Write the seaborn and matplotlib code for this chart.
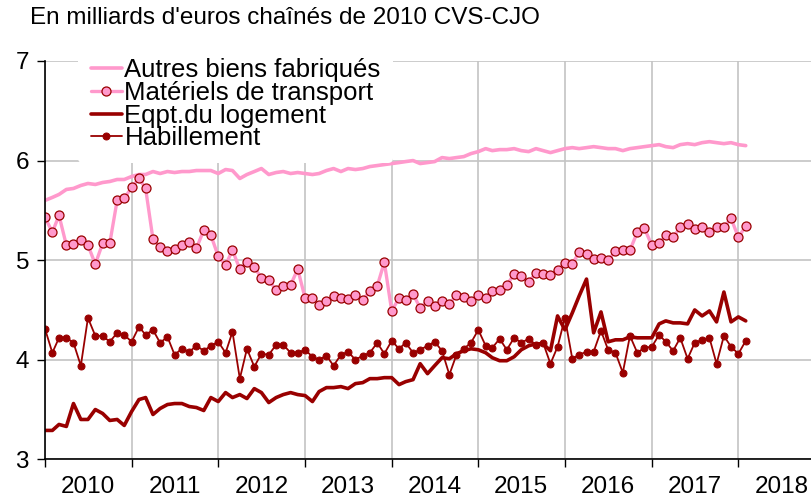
import pandas as pd
import matplotlib
matplotlib.use('Agg')
import matplotlib.pyplot as plt
import matplotlib.dates as mdates
import seaborn as sns

# Monthly series, Jan 2010 - Feb 2018 (billions of chained 2010 euros)
months = pd.date_range('2010-01-01', periods=98, freq='MS')

autres_biens = [
    5.60, 5.63, 5.66, 5.71, 5.72, 5.75, 5.77, 5.76, 5.78, 5.79, 5.81, 5.81,
    5.84, 5.86, 5.86, 5.89, 5.87, 5.89, 5.88, 5.89, 5.89, 5.90, 5.90, 5.90,
    5.87, 5.91, 5.90, 5.82, 5.86, 5.89, 5.92, 5.86, 5.88, 5.89, 5.87, 5.88,
    5.87, 5.86, 5.87, 5.90, 5.92, 5.89, 5.92, 5.91, 5.92, 5.94, 5.95, 5.96,
    5.97, 5.98, 5.99, 6.00, 5.97, 5.98, 5.99, 6.03, 6.02, 6.03, 6.04, 6.07,
    6.09, 6.12, 6.10, 6.11, 6.11, 6.12, 6.10, 6.09, 6.12, 6.10,
    6.08, 6.10, 6.12, 6.13, 6.12, 6.13, 6.14, 6.13, 6.12, 6.12, 6.10, 6.12,
    6.13, 6.14, 6.15, 6.16, 6.14, 6.13, 6.16, 6.17, 6.16, 6.18, 6.19, 6.18,
    6.17, 6.18, 6.16, 6.15,
]

materiels_transport = [
    5.43, 5.28, 5.45, 5.15, 5.16, 5.20, 5.15, 4.96, 5.17, 5.17, 5.60, 5.62,
    5.73, 5.82, 5.72, 5.21, 5.13, 5.09, 5.11, 5.15, 5.18, 5.12, 5.30, 5.25,
    5.04, 4.95, 5.10, 4.91, 4.98, 4.93, 4.82, 4.80, 4.70, 4.74, 4.75, 4.91,
    4.62, 4.62, 4.55, 4.59, 4.64, 4.62, 4.61, 4.65, 4.60, 4.69, 4.74, 4.98,
    4.49, 4.62, 4.60, 4.66, 4.52, 4.59, 4.54, 4.59, 4.56, 4.65, 4.63, 4.59,
    4.65, 4.62, 4.69, 4.70, 4.75, 4.86, 4.84, 4.78, 4.87, 4.86,
    4.85, 4.90, 4.97, 4.96, 5.08, 5.06, 5.01, 5.02, 5.00, 5.09, 5.10, 5.10,
    5.28, 5.32, 5.15, 5.17, 5.25, 5.23, 5.33, 5.36, 5.31, 5.33, 5.28, 5.33,
    5.33, 5.42, 5.23, 5.34,
]

eqpt_logement = [
    3.29, 3.29, 3.35, 3.33, 3.56, 3.40, 3.40, 3.50, 3.46, 3.39, 3.40, 3.34,
    3.48, 3.60, 3.62, 3.45, 3.51, 3.55, 3.56, 3.56, 3.53, 3.52, 3.49, 3.62,
    3.58, 3.67, 3.62, 3.65, 3.61, 3.71, 3.67, 3.57, 3.62, 3.65, 3.67, 3.65,
    3.64, 3.58, 3.68, 3.72, 3.72, 3.73, 3.71, 3.76, 3.77, 3.81, 3.81, 3.82,
    3.82, 3.75, 3.78, 3.80, 3.96, 3.86, 3.94, 4.02, 4.01, 4.06, 4.09, 4.11,
    4.10, 4.07, 4.02, 3.99, 3.99, 4.03, 4.10, 4.14, 4.16, 4.16, 4.09, 4.44,
    4.30, 4.47, 4.64, 4.81, 4.27, 4.48, 4.18, 4.20, 4.20, 4.23, 4.22, 4.22,
    4.22, 4.36, 4.39, 4.37, 4.37, 4.36, 4.50, 4.44, 4.49, 4.38, 4.68, 4.38,
    4.43, 4.39,
]

habillement = [
    4.31, 4.07, 4.22, 4.22, 4.17, 3.94, 4.42, 4.24, 4.24, 4.18, 4.27, 4.25,
    4.18, 4.33, 4.25, 4.30, 4.17, 4.23, 4.05, 4.11, 4.08, 4.14, 4.09, 4.14,
    4.18, 4.07, 4.28, 3.81, 4.11, 3.93, 4.06, 4.05, 4.15, 4.15, 4.07, 4.07,
    4.10, 4.03, 4.00, 4.04, 3.94, 4.05, 4.08, 4.00, 4.04, 4.07, 4.17, 4.06,
    4.19, 4.11, 4.17, 4.07, 4.10, 4.14, 4.18, 4.09, 3.85, 4.05, 4.11, 4.17,
    4.30, 4.14, 4.12, 4.21, 4.10, 4.22, 4.17, 4.21, 4.15, 4.17, 3.96, 4.13,
    4.42, 4.01, 4.05, 4.08, 4.08, 4.29, 4.10, 4.07, 3.87, 4.24, 4.07, 4.12,
    4.13, 4.25, 4.18, 4.09, 4.22, 4.01, 4.17, 4.20, 4.22, 3.96, 4.24, 4.13,
    4.06, 4.19,
]

labels = ['Autres biens fabriqués', 'Matériels de transport',
          'Eqpt.du logement', 'Habillement']

PINK = '#ff99cc'
DARK_RED = '#990000'

df = pd.DataFrame({
    'date': months,
    labels[0]: autres_biens,
    labels[1]: materiels_transport,
    labels[2]: eqpt_logement,
    labels[3]: habillement,
})

sns.set_style('white')
plt.rcParams['font.family'] = ['Liberation Sans', 'DejaVu Sans']
plt.rcParams['text.color'] = 'black'
plt.rcParams['xtick.color'] = 'black'
plt.rcParams['ytick.color'] = 'black'

fig = plt.figure(figsize=(8.11, 4.99), dpi=100)
ax = fig.add_axes([45 / 811, 39.7 / 499, 780 / 811, 398.3 / 499])

sns.lineplot(data=df, x='date', y=labels[0], ax=ax, color=PINK,
             linewidth=2.6, label=labels[0])
sns.lineplot(data=df, x='date', y=labels[1], ax=ax, color=PINK,
             linewidth=2.4, marker='o', markersize=6.5,
             markerfacecolor=PINK, markeredgecolor=DARK_RED,
             markeredgewidth=0.9, label=labels[1])
sns.lineplot(data=df, x='date', y=labels[2], ax=ax, color=DARK_RED,
             linewidth=2.6, label=labels[2])
sns.lineplot(data=df, x='date', y=labels[3], ax=ax, color=DARK_RED,
             linewidth=1.3, marker='o', markersize=5,
             markerfacecolor=DARK_RED, markeredgecolor=DARK_RED,
             label=labels[3])

# Axes limits and ticks: year boundaries carry the grid, labels sit mid-year
ax.set_ylim(3, 7)
ax.set_yticks([3, 4, 5, 6, 7])
ax.set_xlim(pd.Timestamp('2010-01-01'), pd.Timestamp('2019-01-01'))
ax.xaxis.set_major_locator(mdates.YearLocator())
ax.xaxis.set_major_formatter(plt.NullFormatter())
ax.xaxis.set_minor_locator(mdates.MonthLocator(bymonth=7))
ax.xaxis.set_minor_formatter(mdates.DateFormatter('%Y'))
ax.set_xlabel('')
ax.set_ylabel('')

ax.tick_params(axis='x', which='major', direction='out', length=5.5,
               width=1, color='black', bottom=True)
ax.tick_params(axis='x', which='minor', length=0, pad=12, labelsize=17.5,
               labelcolor='black')
ax.tick_params(axis='y', direction='out', length=5.5, width=1,
               color='black', left=True, pad=6, labelsize=17.5,
               labelcolor='black')

ax.grid(True, axis='y', color='#c4c4c4', linewidth=1.2)
ax.grid(True, axis='x', which='major', color='#c4c4c4', linewidth=1.2)
ax.set_axisbelow(True)

sns.despine(ax=ax, top=True, right=True)
for side in ['left', 'bottom']:
    ax.spines[side].set_color('black')
    ax.spines[side].set_linewidth(1.2)

# Tight legend rows, white box hides the grid behind it
leg = ax.legend(loc='upper left', bbox_to_anchor=(0.026, 1.071),
                fontsize=18.5, frameon=True, facecolor='white',
                edgecolor='none', framealpha=1, borderpad=0.5,
                handlelength=1.2, handletextpad=0.1, labelspacing=-0.055)
for txt in leg.get_texts():
    txt.set_color('black')

fig.text(30 / 811, 1 - 18 / 499, "En milliards d'euros chaînés de 2010 CVS-CJO",
         fontsize=17.5, va='center', ha='left', color='black')

fig.savefig('out.png', dpi=100)
plt.close(fig)
